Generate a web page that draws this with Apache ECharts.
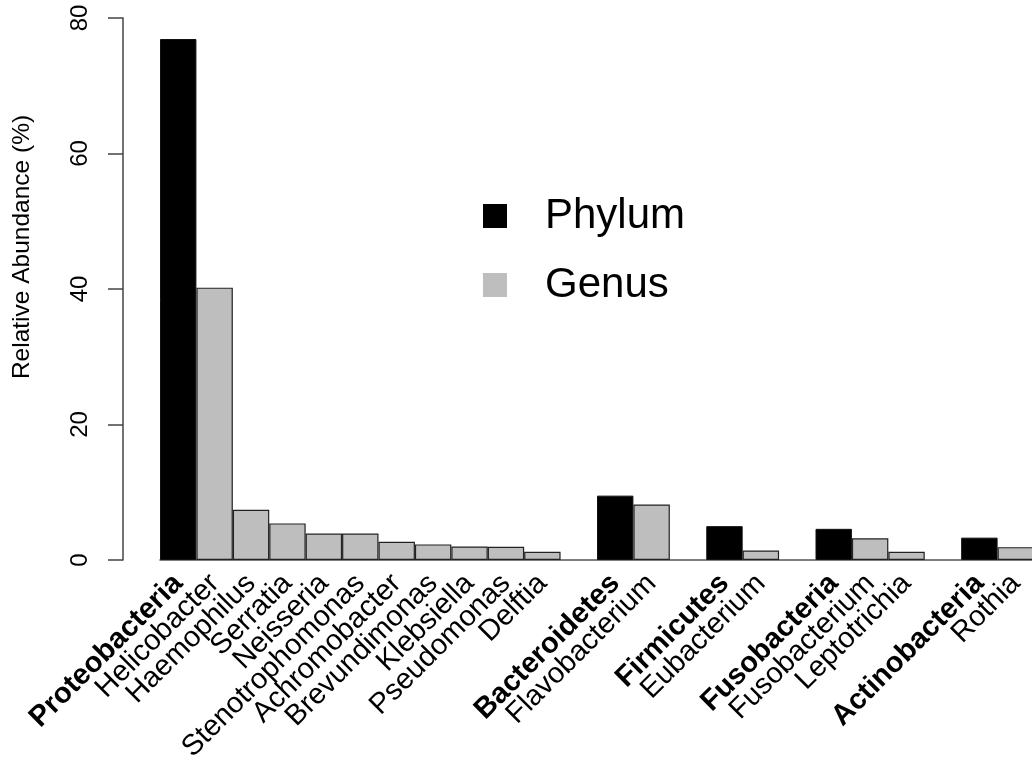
<!DOCTYPE html>
<html>
<head>
<meta charset="utf-8">
<script src="https://cdn.jsdelivr.net/npm/echarts@6/dist/echarts.min.js"></script>
<style>
html,body{margin:0;padding:0;background:#fff;}
#chart{width:1032px;height:759px;}
</style>
</head>
<body>
<div id="chart"></div>
<script>
// Categories ('' = spacer slot between phylum groups)
const categories = [
  'Proteobacteria','Helicobacter','Haemophilus','Serratia','Neisseria','Stenotrophomonas',
  'Achromobacter','Brevundimonas','Klebsiella','Pseudomonas','Delftia','',
  'Bacteroidetes','Flavobacterium','',
  'Firmicutes','Eubacterium','',
  'Fusobacteria','Fusobacterium','Leptotrichia','',
  'Actinobacteria','Rothia'
];
const phylumNames = ['Proteobacteria','Bacteroidetes','Firmicutes','Fusobacteria','Actinobacteria'];
const phylumValues = [
  76.9, null, null, null, null, null, null, null, null, null, null, null,
  9.5, null, null,
  5.0, null, null,
  4.6, null, null, null,
  3.3, null
];
const genusValues = [
  null, 40.2, 7.4, 5.4, 3.9, 3.9, 2.7, 2.3, 2.0, 1.95, 1.2, null,
  null, 8.2, null,
  null, 1.4, null,
  null, 3.2, 1.2, null,
  null, 1.9
];
const yTicks = [0, 20, 40, 60, 80];

const FONT = "'Liberation Sans', Arial, Helvetica, sans-serif";
const chart = echarts.init(document.getElementById('chart'), null, {renderer: 'canvas'});
chart.setOption({
  backgroundColor: '#ffffff',
  animation: false,
  textStyle: {fontFamily: FONT},
  legend: {
    data: ['Phylum', 'Genus'],
    orient: 'vertical',
    left: 478,
    top: 190,
    icon: 'rect',
    itemWidth: 24,
    itemHeight: 24,
    itemGap: 27,
    itemStyle: {borderWidth: 0},
    textStyle: {fontSize: 42, color: '#000', fontFamily: FONT, padding: [0, 0, 0, 33], lineHeight: 42}
  },
  grid: {left: 160, right: -2, top: 18, bottom: 199, containLabel: false, outerBoundsMode: 'none'},
  xAxis: {
    type: 'category',
    data: categories,
    boundaryGap: true,
    axisLine: {show: true, lineStyle: {color: '#555', width: 1.5}},
    axisTick: {show: false},
    axisLabel: {
      interval: 0,
      rotate: 45,
      margin: 19,
      color: '#000',
      fontSize: 29,
      fontFamily: FONT,
      formatter: function (v) {
        return phylumNames.indexOf(v) >= 0 ? '{b|' + v + '}' : v;
      },
      rich: {b: {fontWeight: 'bold', fontSize: 29, fontFamily: FONT, color: '#000'}}
    },
    splitLine: {show: false}
  },
  yAxis: {
    type: 'value',
    min: yTicks[0],
    max: yTicks[yTicks.length - 1],
    interval: 20,
    offset: 37,
    name: 'Relative Abundance (%)',
    nameLocation: 'middle',
    nameRotate: 90,
    nameGap: 88,
    nameTextStyle: {fontSize: 24.5, color: '#000', fontFamily: FONT, padding: [0, 0, 0, 84]},
    axisLine: {show: true, lineStyle: {color: '#444', width: 1.5}},
    axisTick: {show: true, length: 15, lineStyle: {color: '#444', width: 1.5}},
    axisLabel: {rotate: 90, margin: 31, fontSize: 24, color: '#000', fontFamily: FONT},
    splitLine: {show: false}
  },
  series: [
    {
      name: 'Phylum',
      type: 'bar',
      stack: 'all',
      barCategoryGap: '0%',
      data: phylumValues,
      itemStyle: {color: '#000000', borderColor: '#111', borderWidth: 1}
    },
    {
      name: 'Genus',
      type: 'bar',
      stack: 'all',
      barCategoryGap: '0%',
      data: genusValues,
      itemStyle: {color: '#bebebe', borderColor: '#222', borderWidth: 1.2}
    }
  ]
});
</script>
</body>
</html>
